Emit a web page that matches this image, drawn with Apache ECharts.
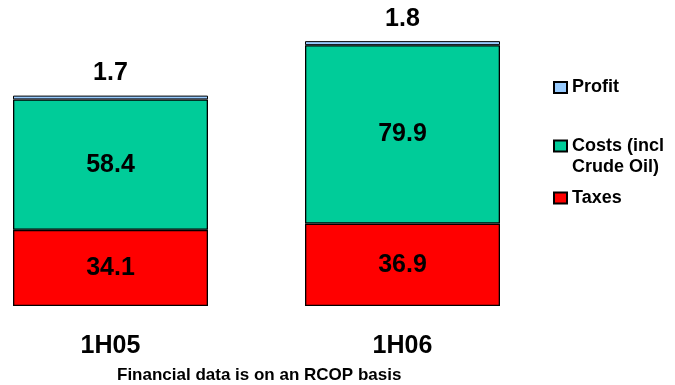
<!DOCTYPE html>
<html>
<head>
<meta charset="utf-8">
<script src="https://cdn.jsdelivr.net/npm/echarts@6/dist/echarts.min.js"></script>
<style>
  html, body { margin: 0; padding: 0; background: #fff; }
  #chart { width: 675px; height: 385px; }
</style>
</head>
<body>
<div id="chart"></div>
<script>
// Half-year periods and the stacked components of each bar
const categories = ['1H05', '1H06'];
const taxes = [34.1, 36.9];
const costs = [58.4, 79.9];
const profit = [1.7, 1.8];

const seriesNames = ['Taxes', 'Costs (incl Crude Oil)', 'Profit'];
const footnote = 'Financial data is on an RCOP basis';

const FONT = '"Liberation Sans", Arial, Helvetica, sans-serif';
const colors = { taxes: '#ff0000', costs: '#00cc99', profit: '#99ccff' };

const chart = echarts.init(document.getElementById('chart'), null, { renderer: 'canvas' });

const barBase = {
  type: 'bar',
  stack: 'total',
  barWidth: 195,
  clip: false,
  animation: false,
  emphasis: { disabled: true }
};

const legendBase = {
  left: 548,
  itemWidth: 13,
  itemHeight: 11,
  icon: 'rect',
  selectedMode: false,
  textStyle: { fontFamily: FONT, fontWeight: 'bold', fontSize: 18, color: '#000', lineHeight: 21 }
};

chart.setOption({
  backgroundColor: '#ffffff',
  animation: false,
  grid: { left: 110.5, right: 272.5, top: 38, bottom: 79, containLabel: false },
  xAxis: {
    type: 'category',
    data: categories,
    boundaryGap: false,
    axisLine: { show: false },
    axisTick: { show: false },
    splitLine: { show: false },
    axisLabel: {
      margin: 28,
      fontFamily: FONT,
      fontWeight: 'bold',
      fontSize: 25,
      color: '#000'
    }
  },
  yAxis: {
    type: 'value',
    min: 0,
    max: 120,
    show: false
  },
  legend: [
    Object.assign({}, legendBase, { top: 72, data: [seriesNames[2]] }),
    Object.assign({}, legendBase, {
      top: 109.5,
      data: [seriesNames[1]],
      formatter: () => '\nCosts (incl\nCrude Oil)'
    }),
    Object.assign({}, legendBase, { top: 182.5, data: [seriesNames[0]] })
  ],
  title: {
    text: footnote,
    left: 112,
    top: 361.5,
    textStyle: { fontFamily: FONT, fontWeight: 'bold', fontSize: 17, color: '#000' }
  },
  series: [
    Object.assign({}, barBase, {
      name: seriesNames[0],
      data: taxes,
      itemStyle: { color: colors.taxes, borderColor: '#000', borderWidth: 1.3 },
      label: {
        show: true, position: 'inside',
        fontFamily: FONT, fontWeight: 'bold', fontSize: 25, color: '#000',
        formatter: p => p.value.toFixed(1)
      }
    }),
    Object.assign({}, barBase, {
      name: seriesNames[1],
      data: costs,
      itemStyle: { color: colors.costs, borderColor: '#000', borderWidth: 1.3 },
      label: {
        show: true, position: 'inside',
        fontFamily: FONT, fontWeight: 'bold', fontSize: 25, color: '#000',
        formatter: p => p.value.toFixed(1)
      }
    }),
    Object.assign({}, barBase, {
      name: seriesNames[2],
      data: profit,
      itemStyle: { color: colors.profit, borderColor: '#000', borderWidth: 1 },
      label: {
        show: true, position: 'top', distance: 10,
        fontFamily: FONT, fontWeight: 'bold', fontSize: 25, color: '#000',
        formatter: p => p.value.toFixed(1)
      }
    })
  ]
});
</script>
</body>
</html>
